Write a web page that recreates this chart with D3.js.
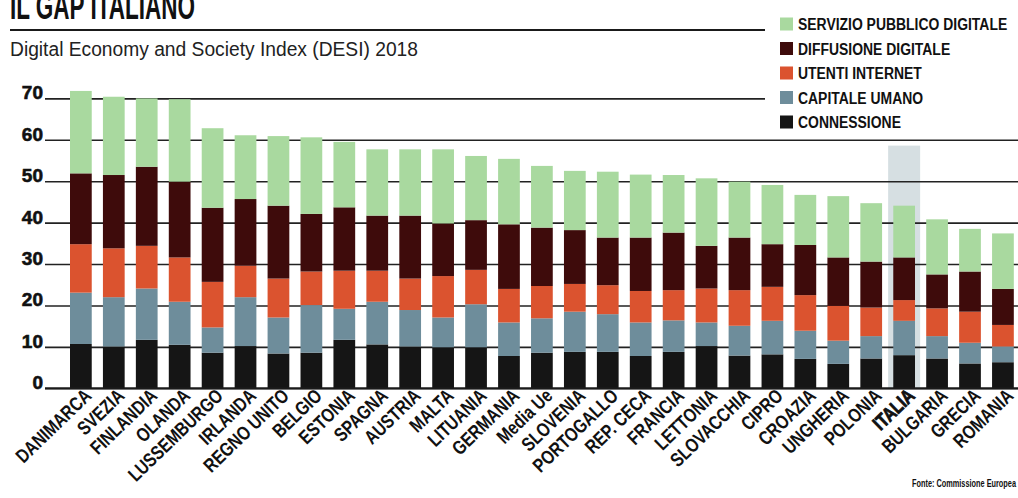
<!DOCTYPE html>
<html>
<head>
<meta charset="utf-8">
<script src="https://cdn.jsdelivr.net/npm/d3@7"></script>
<style>
  html, body { margin: 0; padding: 0; background: #ffffff; }
  svg { display: block; }
</style>
</head>
<body>
<svg id="chart" width="1018" height="498"></svg>
<script>
// DESI 2018 – componenti per paese (punti)
const countries = ["DANIMARCA","SVEZIA","FINLANDIA","OLANDA","LUSSEMBURGO","IRLANDA","REGNO UNITO","BELGIO","ESTONIA","SPAGNA","AUSTRIA","MALTA","LITUANIA","GERMANIA","Media Ue","SLOVENIA","PORTOGALLO","REP. CECA","FRANCIA","LETTONIA","SLOVACCHIA","CIPRO","CROAZIA","UNGHERIA","POLONIA","ITALIA","BULGARIA","GRECIA","ROMANIA"];
const connessione = [10.7,10.1,11.7,10.5,8.6,10.2,8.4,8.6,11.7,10.6,10.1,9.9,9.9,7.8,8.6,8.8,8.8,7.8,8.8,10.2,7.9,8.2,7.1,5.9,7.2,8.0,7.2,6.0,6.3];
const capitaleUmano = [12.4,11.9,12.4,10.4,6.1,11.8,8.7,11.5,7.5,10.3,8.8,7.2,10.4,8.1,8.3,9.7,9.1,8.1,7.6,5.7,7.2,8.1,6.8,5.6,5.4,8.3,5.4,5.0,3.8];
const utentiInternet = [11.7,11.8,10.3,10.7,11.0,7.6,9.4,8.1,9.2,7.5,7.6,10.0,8.3,8.1,7.8,6.7,7.0,7.6,7.3,8.2,8.6,8.2,8.6,8.4,6.9,5.0,6.7,7.5,5.2];
const diffusioneDigitale = [17.1,17.7,19.1,18.3,17.9,16.1,17.6,13.9,15.3,13.3,15.2,12.7,12.0,15.6,14.1,13.0,11.5,12.9,13.9,10.3,12.7,10.3,12.1,11.7,11.1,10.3,8.2,9.7,8.7];
const servizioPubblico = [19.9,18.9,16.5,19.9,19.2,15.4,16.8,18.5,15.8,16.0,16.0,17.9,15.5,15.8,14.9,14.3,15.9,15.2,13.9,16.3,13.5,14.3,12.1,14.8,14.1,12.5,13.3,10.3,13.4];

const seriesNames = ["CONNESSIONE","CAPITALE UMANO","UTENTI INTERNET","DIFFUSIONE DIGITALE","SERVIZIO PUBBLICO DIGITALE"];
const seriesColors = ["#151515","#6e8d9b","#db532f","#3e0b0b","#a9d99f"];
const yTicks = [0,10,20,30,40,50,60,70];
const highlightCountry = "ITALIA";
const highlightTop = 58.6;

const svg = d3.select("#chart");
const sans = "'Liberation Sans', Arial, sans-serif";

const rows = countries.map((c, i) => ({
  country: c,
  "CONNESSIONE": connessione[i],
  "CAPITALE UMANO": capitaleUmano[i],
  "UTENTI INTERNET": utentiInternet[i],
  "DIFFUSIONE DIGITALE": diffusioneDigitale[i],
  "SERVIZIO PUBBLICO DIGITALE": servizioPubblico[i]
}));

const x = d3.scaleBand().domain(countries).range([64.4, 1019.4]).paddingInner(0.34).paddingOuter(0.17);
const y = d3.scaleLinear().domain([0, 70]).range([388.3, 98.4]);
const color = d3.scaleOrdinal().domain(seriesNames).range(seriesColors);

// Titolo (testata condensata)
svg.append("text")
  .attr("x", 10).attr("y", 19)
  .attr("font-family", sans).attr("font-weight", "bold").attr("font-size", 36)
  .attr("textLength", 185).attr("lengthAdjust", "spacingAndGlyphs")
  .attr("fill", "#111")
  .text("IL GAP ITALIANO");

svg.append("line")
  .attr("x1", 10).attr("x2", 765).attr("y1", 30).attr("y2", 30)
  .attr("stroke", "#1a1a1a").attr("stroke-width", 2);

svg.append("text")
  .attr("x", 10).attr("y", 56)
  .attr("font-family", sans).attr("font-size", 20)
  .attr("textLength", 408).attr("lengthAdjust", "spacingAndGlyphs")
  .attr("fill", "#222")
  .text("Digital Economy and Society Index (DESI) 2018");

// Riquadro di evidenza per l'Italia
const hx = x(highlightCountry) + x.bandwidth() / 2;
svg.append("rect")
  .attr("x", hx - 16).attr("width", 32)
  .attr("y", y(highlightTop)).attr("height", y(0) - y(highlightTop))
  .attr("fill", "#d6dfe2");

// Griglia e valori dell'asse y
const gridW = 1018 - 45;
const yAxis = svg.append("g")
  .attr("transform", "translate(45,0)")
  .call(d3.axisLeft(y).tickValues(yTicks).tickSize(-gridW).tickPadding(2).tickFormat(d3.format("d")));
yAxis.select(".domain").remove();
yAxis.selectAll(".tick line")
  .attr("stroke", "#222").attr("stroke-width", 1.6)
  .attr("x2", d => d === 70 ? 765 - 45 : gridW);
yAxis.selectAll(".tick text")
  .attr("font-family", sans)
  .attr("font-weight", "bold").attr("font-size", 19)
  .attr("fill", "#111").attr("stroke", "#111").attr("stroke-width", 0.6)
  .attr("dy", "0.02em");

// Barre impilate
const stacked = d3.stack().keys(seriesNames)(rows);
svg.append("g").selectAll("g")
  .data(stacked)
  .join("g")
  .attr("fill", d => color(d.key))
  .selectAll("rect")
  .data(d => d)
  .join("rect")
  .attr("x", d => x(d.data.country))
  .attr("width", x.bandwidth())
  .attr("y", d => y(d[1]))
  .attr("height", d => y(d[0]) - y(d[1]));

// Linea di base
svg.append("line")
  .attr("x1", 45).attr("x2", 1018).attr("y1", y(0)).attr("y2", y(0))
  .attr("stroke", "#1a1a1a").attr("stroke-width", 2);

// Etichette dei paesi (ruotate, condensate)
const xAxis = svg.append("g")
  .attr("transform", `translate(0,${y(0)})`)
  .call(d3.axisBottom(x).tickSize(0).tickPadding(0));
xAxis.select(".domain").remove();
xAxis.selectAll(".tick text")
  .attr("font-family", sans).attr("font-weight", "bold").attr("font-size", 19.5)
  .attr("fill", "#111")
  .attr("text-anchor", "end")
  .attr("x", 0).attr("y", 0).attr("dy", "0.35em")
  .attr("transform", "translate(7,4) rotate(-44) scale(0.8,1)")
  .attr("stroke", d => d === highlightCountry ? "#111" : "none")
  .attr("stroke-width", 0.9);

// Legenda
const legendOrder = seriesNames.slice().reverse();
const legend = svg.append("g").selectAll("g")
  .data(legendOrder)
  .join("g")
  .attr("transform", (d, i) => `translate(780,${24 + i * 24.5})`);
legend.append("rect")
  .attr("x", 0).attr("y", -6.5).attr("width", 13).attr("height", 13)
  .attr("fill", d => color(d));
legend.append("text")
  .attr("x", 0).attr("y", 0).attr("dy", "0.36em")
  .attr("transform", "translate(18,0) scale(0.82,1)")
  .attr("font-family", sans).attr("font-weight", "bold").attr("font-size", 17)
  .attr("fill", "#111")
  .text(d => d);

// Fonte
svg.append("text")
  .attr("x", 912).attr("y", 487)
  .attr("textLength", 104).attr("lengthAdjust", "spacingAndGlyphs")
  .attr("font-family", sans).attr("font-weight", "bold").attr("font-size", 11)
  .attr("fill", "#111")
  .text("Fonte: Commissione Europea");
</script>
</body>
</html>
